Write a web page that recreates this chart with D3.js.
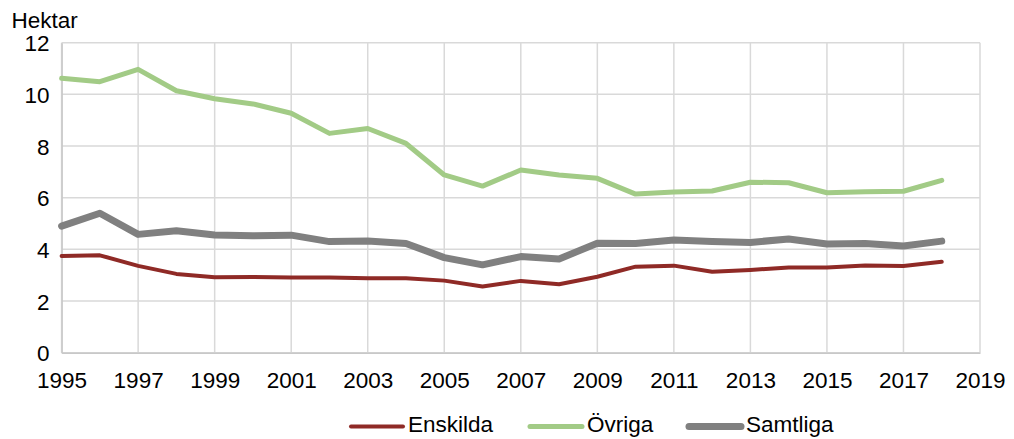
<!DOCTYPE html>
<html lang="sv">
<head>
<meta charset="UTF-8" />
<title>Hektar</title>
<style>
  body { margin: 0; background: #fff; }
  svg text { font-family: "Liberation Sans", Arial, sans-serif; fill: #000; }
</style>
</head>
<body>
<script src="https://cdn.jsdelivr.net/npm/d3@7"></script>
<div id="app"></div>
<script>
// DATA
const years = d3.range(1995, 2019);
const enskilda = [3.74, 3.77, 3.36, 3.05, 2.92, 2.93, 2.91, 2.91, 2.88, 2.88, 2.79, 2.56,
                  2.78, 2.65, 2.94, 3.33, 3.37, 3.13, 3.20, 3.30, 3.30, 3.38, 3.36, 3.52];
const ovriga = [10.62, 10.49, 10.97, 10.14, 9.83, 9.63, 9.27, 8.49, 8.68, 8.10, 6.88, 6.45,
                7.07, 6.88, 6.75, 6.14, 6.22, 6.26, 6.60, 6.58, 6.19, 6.23, 6.25, 6.67];
const samtliga = [4.90, 5.40, 4.58, 4.72, 4.56, 4.53, 4.55, 4.30, 4.32, 4.23, 3.68, 3.40,
                  3.72, 3.63, 4.24, 4.23, 4.36, 4.30, 4.27, 4.40, 4.21, 4.23, 4.13, 4.32];
const seriesNames = ["Enskilda", "Övriga", "Samtliga"];
const xTicks = d3.range(1995, 2020, 2);
const yTicks = [0, 2, 4, 6, 8, 10, 12];

// SVG
const w = 1014, h = 439;
const plotLeft = 61.6, plotRight = 980, plotTop = 42.7, plotBottom = 352.7;
const fontSize = "22.5px";

const svg = d3.select("#app").append("svg")
  .attr("width", w).attr("height", h);

const xScale = d3.scaleLinear().domain([1995, 2019]).range([plotLeft, plotRight]);
const yScale = d3.scaleLinear().domain([0, 12]).range([plotBottom, plotTop]);

// grid
svg.append("g")
  .selectAll("line")
  .data(xTicks)
  .enter().append("line")
  .attr("x1", d => xScale(d)).attr("x2", d => xScale(d))
  .attr("y1", plotTop).attr("y2", plotBottom)
  .attr("stroke", "#d9d9d9").attr("stroke-width", 1.5);

svg.append("g")
  .selectAll("line")
  .data(yTicks)
  .enter().append("line")
  .attr("x1", plotLeft).attr("x2", plotRight)
  .attr("y1", d => yScale(d)).attr("y2", d => yScale(d))
  .attr("stroke", "#d9d9d9").attr("stroke-width", 1.5);

// axes
const xAxis = d3.axisBottom(xScale).tickValues(xTicks).tickFormat(d3.format("d")).tickSize(0);
const yAxis = d3.axisLeft(yScale).tickValues(yTicks).tickSize(0).tickPadding(12);

const gx = svg.append("g").attr("transform", "translate(0," + plotBottom + ")").call(xAxis);
gx.select(".domain").attr("stroke", "#c8c8c8").attr("stroke-width", 1.5);
gx.selectAll("text").style("font-size", fontSize).attr("y", 35.5).attr("dy", 0);

const gy = svg.append("g").attr("transform", "translate(" + plotLeft + ",0)").call(yAxis);
gy.select(".domain").attr("stroke", "#c8c8c8").attr("stroke-width", 1.5);
gy.selectAll("text").style("font-size", fontSize).attr("dy", "0.36em");

svg.append("text")
  .attr("x", 11.5).attr("y", 28)
  .style("font-size", fontSize)
  .text("Hektar");

// lines
const series = [
  { name: seriesNames[0], values: enskilda, color: "#8f2a26", width: 4 },
  { name: seriesNames[1], values: ovriga, color: "#a2cb86", width: 5 },
  { name: seriesNames[2], values: samtliga, color: "#808080", width: 7 }
];

const line = d3.line()
  .x((d, i) => xScale(years[i]))
  .y(d => yScale(d));

svg.append("g")
  .selectAll("path")
  .data(series)
  .enter().append("path")
  .attr("d", d => line(d.values))
  .attr("fill", "none")
  .attr("stroke", d => d.color)
  .attr("stroke-width", d => d.width)
  .attr("stroke-linejoin", "round")
  .attr("stroke-linecap", "round");

// legend
const legendX = [351, 530, 689];
const legend = svg.append("g")
  .selectAll("g")
  .data(series)
  .enter().append("g")
  .attr("transform", (d, i) => "translate(" + legendX[i] + ",426.5)");

legend.append("line")
  .attr("x1", 0).attr("x2", 52)
  .attr("stroke", d => d.color)
  .attr("stroke-width", d => d.width)
  .attr("stroke-linecap", "round");

legend.append("text")
  .attr("x", 57).attr("y", 5.5)
  .style("font-size", fontSize)
  .text(d => d.name);
</script>
</body>
</html>
